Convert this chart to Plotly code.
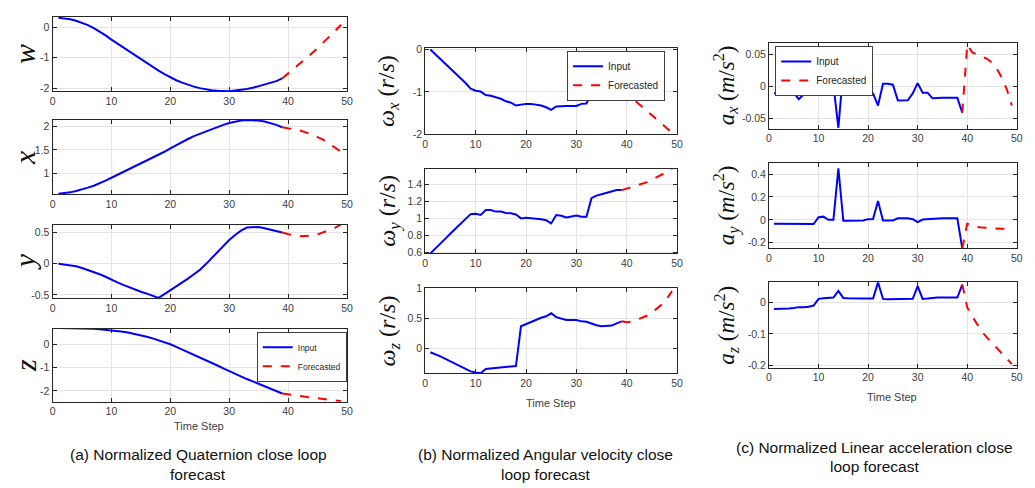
import plotly.graph_objects as go

W, H = 1035, 488

t_in = list(range(1, 40))
t_fc = list(range(39, 50))

# (a) quaternion
w_in = [0.32, 0.30, 0.27, 0.22, 0.16, 0.08, -0.02, -0.13, -0.26, -0.40, -0.53, -0.66, -0.79, -0.92, -1.05,
        -1.18, -1.30, -1.42, -1.54, -1.65, -1.74, -1.82, -1.89, -1.95, -2.00, -2.04, -2.07, -2.09, -2.10,
        -2.10, -2.08, -2.06, -2.03, -1.99, -1.94, -1.89, -1.83, -1.77, -1.68]
w_fc = [-1.68, -1.52, -1.36, -1.20, -1.03, -0.86, -0.68, -0.50, -0.31, -0.11, 0.09]
x_in = [0.57, 0.58, 0.60, 0.63, 0.66, 0.70, 0.74, 0.79, 0.85, 0.91, 0.97, 1.03, 1.09, 1.15, 1.21, 1.27,
        1.33, 1.39, 1.46, 1.53, 1.60, 1.67, 1.73, 1.79, 1.84, 1.89, 1.94, 1.99, 2.03, 2.07, 2.10, 2.12,
        2.13, 2.13, 2.12, 2.10, 2.07, 2.03, 1.98]
x_fc = [1.98, 1.96, 1.94, 1.91, 1.87, 1.83, 1.77, 1.71, 1.63, 1.55, 1.46]
y_in = [0.00, -0.01, -0.02, -0.04, -0.07, -0.10, -0.13, -0.17, -0.21, -0.26, -0.30, -0.34, -0.38, -0.42,
        -0.45, -0.48, -0.51, -0.55, -0.49, -0.43, -0.37, -0.30, -0.24, -0.17, -0.10, -0.01, 0.09, 0.19,
        0.29, 0.38, 0.46, 0.53, 0.58, 0.59, 0.59, 0.57, 0.55, 0.53, 0.50]
y_fc = [0.50, 0.47, 0.45, 0.44, 0.44, 0.45, 0.47, 0.50, 0.54, 0.58, 0.63]
z_in = [0.69, 0.69, 0.69, 0.68, 0.68, 0.67, 0.66, 0.64, 0.62, 0.60, 0.57, 0.53, 0.49, 0.44, 0.38, 0.32,
        0.25, 0.17, 0.09, 0.00, -0.11, -0.22, -0.33, -0.44, -0.55, -0.67, -0.79, -0.91, -1.03, -1.15,
        -1.27, -1.38, -1.49, -1.59, -1.69, -1.79, -1.89, -1.99, -2.11]
z_fc = [-2.11, -2.15, -2.18, -2.22, -2.25, -2.28, -2.31, -2.34, -2.37, -2.40, -2.44]

# (b) angular velocity
wx_in = [0.0, -0.11, -0.22, -0.33, -0.44, -0.55, -0.66, -0.79, -0.92, -0.97, -0.99, -1.07, -1.09, -1.13,
         -1.16, -1.22, -1.25, -1.32, -1.30, -1.28, -1.28, -1.30, -1.32, -1.36, -1.42, -1.34, -1.33, -1.33,
         -1.33, -1.33, -1.28, -1.27, -1.04, -1.00, -0.98, -0.96, -0.94, -0.94, -0.95]
wx_fc = [-0.95, -1.04, -1.14, -1.24, -1.34, -1.45, -1.55, -1.65, -1.75, -1.86, -1.96]
wy_in = [0.585, 0.64, 0.70, 0.76, 0.82, 0.88, 0.94, 1.00, 1.05, 1.054, 1.04, 1.10, 1.10, 1.08, 1.08, 1.065,
         1.06, 1.046, 1.00, 1.008, 1.004, 0.996, 0.99, 0.977, 0.94, 1.04, 1.03, 1.01, 1.02, 1.035, 1.02,
         1.02, 1.24, 1.27, 1.285, 1.30, 1.32, 1.335, 1.335]
wy_fc = [1.335, 1.35, 1.37, 1.39, 1.41, 1.43, 1.46, 1.49, 1.52, 1.55, 1.59]
wz_in = [-0.07, -0.10, -0.14, -0.18, -0.22, -0.26, -0.30, -0.34, -0.39, -0.41, -0.42, -0.35, -0.34, -0.33,
         -0.325, -0.315, -0.30, -0.30, 0.364, 0.40, 0.44, 0.47, 0.505, 0.53, 0.58, 0.516, 0.49, 0.47, 0.467,
         0.467, 0.446, 0.44, 0.41, 0.38, 0.364, 0.364, 0.375, 0.413, 0.446]
wz_fc = [0.446, 0.43, 0.44, 0.47, 0.50, 0.54, 0.59, 0.66, 0.73, 0.83, 0.95]

# (c) linear acceleration
ax_in = [-0.011, -0.0116, -0.0116, -0.0096, -0.010, -0.020, -0.0126, -0.0086, -0.0086, -0.001, 0.0025,
         0.0025, 0.0025, -0.065, 0.026, 0.03, 0.025, 0.018, 0.0066, -0.0096, -0.011, -0.030, 0.004, 0.004,
         0.0025, -0.022, -0.022, -0.0217, -0.011, 0.005, -0.010, -0.010, -0.0187, -0.018, -0.018, -0.018,
         -0.018, -0.018, -0.041]
ax_fc = [-0.041, 0.065, 0.053, 0.049, 0.046, 0.043, 0.037, 0.027, 0.013, -0.005, -0.030]
ay_in = [-0.034, -0.035, -0.035, -0.036, -0.036, -0.036, -0.036, -0.037, -0.037, 0.023, 0.028, 0.0, 0.0,
         0.45, -0.0085, -0.0085, -0.0085, -0.0085, -0.006, 0.006, 0.008, 0.165, -0.006, -0.006, -0.006,
         0.014, 0.014, 0.014, 0.006, -0.02, 0.003, 0.006, 0.014, 0.014, 0.014, 0.014, 0.014, 0.014, -0.25]
ay_fc = [-0.25, -0.034, -0.048, -0.063, -0.068, -0.072, -0.074, -0.076, -0.078, -0.079, -0.082]
az_in = [-0.022, -0.022, -0.021, -0.020, -0.019, -0.016, -0.016, -0.015, -0.011, 0.010, 0.012, 0.014,
         0.014, 0.035, 0.013, 0.012, 0.011, 0.010, 0.011, 0.011, 0.011, 0.062, 0.010, 0.009, 0.009, 0.010,
         0.010, 0.010, 0.010, 0.050, 0.010, 0.011, 0.013, 0.014, 0.014, 0.014, 0.014, 0.014, 0.055]
az_fc = [0.055, -0.017, -0.045, -0.070, -0.094, -0.112, -0.129, -0.147, -0.162, -0.178, -0.195]

x_ticks = [0, 10, 20, 30, 40, 50]
x_tick_text = ["0", "10", "20", "30", "40", "50"]

# panel: (series_in, series_fc, x px range, y px range, y range, tickvals, ticktext, column)
panels = [
    (w_in, w_fc, (50, 347), (11.3, 87.3), [-2.1, 0.345], [-2, -1, 0], ["-2", "-1", "0"], "a"),
    (x_in, x_fc, (50, 347), (117, 193), [0.56, 2.13], [1, 1.5, 2], ["1", "1.5", "2"], "a"),
    (y_in, y_fc, (50, 347), (224.3, 299.3), [-0.55, 0.625], [-0.5, 0, 0.5], ["-0.5", "0", "0.5"], "a"),
    (z_in, z_fc, (50, 347), (330.7, 405.7), [-2.46, 0.67], [-2, -1, 0], ["-2", "-1", "0"], "a"),
    (wx_in, wx_fc, (426, 680), (43.3, 131.7), [-2.0, 0.03], [-2, -1, 0], ["-2", "-1", "0"], "b"),
    (wy_in, wy_fc, (426, 680), (166.7, 253.7), [0.584, 1.59], [0.6, 0.8, 1, 1.2, 1.4],
     ["0.6", "0.8", "1", "1.2", "1.4"], "b"),
    (wz_in, wz_fc, (426, 680), (289.3, 376.7), [-0.424, 1.0], [0, 0.5, 1], ["0", "0.5", "1"], "b"),
    (ax_in, ax_fc, (772.7, 1022.7), (37.7, 125.7), [-0.066, 0.068], [-0.05, 0, 0.05],
     ["-0.05", "0", "0.05"], "c"),
    (ay_in, ay_fc, (772.7, 1022.7), (161, 248.3), [-0.248, 0.497], [-0.2, 0, 0.2, 0.4],
     ["-0.2", "0", "0.2", "0.4"], "c"),
    (az_in, az_fc, (772.7, 1022.7), (283.3, 371), [-0.207, 0.062], [-0.2, -0.1, 0],
     ["-0.2", "-0.1", "0"], "c"),
]

legend_of = {3: "legend", 4: "legend2", 7: "legend3"}

fig = go.Figure()
layout = dict(width=W, height=H, margin=dict(l=0, r=0, t=0, b=0),
              paper_bgcolor="white", plot_bgcolor="white", showlegend=True)

tickfont = dict(family="Liberation Sans, Arial", size=10.5, color="#404040")
axcommon = dict(showline=True, linecolor="#262626", linewidth=1, mirror="ticks", ticks="inside",
                ticklen=4, tickcolor="#262626", showgrid=True, gridcolor="#e4e4e4", gridwidth=1,
                zeroline=False, tickfont=tickfont)

for i, (s_in, s_fc, xr, yr, yrange, tv, tt, col) in enumerate(panels):
    n = i + 1
    xa = "x" if n == 1 else f"x{n}"
    ya = "y" if n == 1 else f"y{n}"
    leg = legend_of.get(i)
    fig.add_trace(go.Scatter(x=t_in, y=s_in, mode="lines", name="Input", xaxis=xa, yaxis=ya,
                             line=dict(color="#0000ff", width=2),
                             showlegend=leg is not None, legend=leg if leg else "legend"))
    fig.add_trace(go.Scatter(x=t_fc, y=s_fc, mode="lines", name="Forecasted", xaxis=xa, yaxis=ya,
                             line=dict(color="#ff0000", width=2, dash="dash"),
                             showlegend=leg is not None, legend=leg if leg else "legend"))
    xkey = "xaxis" if n == 1 else f"xaxis{n}"
    ykey = "yaxis" if n == 1 else f"yaxis{n}"
    layout[xkey] = dict(axcommon, domain=[xr[0] / W, xr[1] / W], range=[0, 50], tickvals=x_ticks,
                        ticktext=x_tick_text, anchor=ya)
    layout[ykey] = dict(axcommon, domain=[1 - yr[1] / H, 1 - yr[0] / H], range=yrange, tickvals=tv,
                        ticktext=tt, anchor=xa)

legstyle = dict(bgcolor="white", bordercolor="#404040", borderwidth=1, xanchor="left", yanchor="top",
                tracegroupgap=0, itemwidth=30)
layout["legend"] = dict(legstyle, x=256 / W, y=1 - 334 / H,
                        font=dict(family="Liberation Sans, Arial", size=8.5, color="#262626"))
layout["legend2"] = dict(legstyle, x=569 / W, y=1 - 46 / H,
                         font=dict(family="Liberation Sans, Arial", size=10, color="#262626"))
layout["legend3"] = dict(legstyle, x=779 / W, y=1 - 41 / H,
                         font=dict(family="Liberation Sans, Arial", size=10, color="#262626"))

ann = []
serif = "Liberation Serif, Times New Roman, serif"
ylabels = [
    ("<i>w</i>", 21, 49.3, 30), ("<i>x</i>", 21, 155, 30), ("<i>y</i>", 22, 261.8, 30), ("<i>z</i>", 22, 368.2, 30),
    ("<i>ω</i><sub><i>x</i></sub> (<i>r</i>/<i>s</i>)", 389, 87.5, 24),
    ("<i>ω</i><sub><i>y</i></sub> (<i>r</i>/<i>s</i>)", 389, 210.2, 24),
    ("<i>ω</i><sub><i>z</i></sub> (<i>r</i>/<i>s</i>)", 389, 333, 24),
    ("<i>a</i><sub><i>x</i></sub> (<i>m</i>/<i>s</i><sup>2</sup>)", 729, 81.7, 23),
    ("<i>a</i><sub><i>y</i></sub> (<i>m</i>/<i>s</i><sup>2</sup>)", 729, 204.6, 23),
    ("<i>a</i><sub><i>z</i></sub> (<i>m</i>/<i>s</i><sup>2</sup>)", 729, 327.1, 23),
]
for txt, px, py, fs in ylabels:
    ann.append(dict(text=txt, x=px / W, y=1 - py / H, xref="paper", yref="paper", showarrow=False,
                    textangle=-90, xanchor="center", yanchor="middle",
                    font=dict(family=serif, size=fs, color="#111111")))

for px, py in [(198, 430.7), (553, 407.3), (897, 401.3)]:
    ann.append(dict(text="Time Step", x=px / W, y=1 - py / H, xref="paper", yref="paper", showarrow=False,
                    xanchor="center", yanchor="middle",
                    font=dict(family="Liberation Sans, Arial", size=11, color="#404040")))

captions = [
    ("(a) Normalized Quaternion close loop", 197, 460), ("forecast", 197, 480),
    ("(b) Normalized Angular velocity close", 547, 460), ("loop forecast", 547, 480),
    ("(c) Normalized Linear acceleration close", 879, 453), ("loop forecast", 879, 472),
]
for txt, px, py in captions:
    ann.append(dict(text=txt, x=px / W, y=1 - py / H, xref="paper", yref="paper", showarrow=False,
                    xanchor="center", yanchor="middle",
                    font=dict(family="Liberation Sans, Arial", size=15.5, color="#111111")))

layout["annotations"] = ann
fig.update_layout(**layout)
fig.write_html("out.html")
